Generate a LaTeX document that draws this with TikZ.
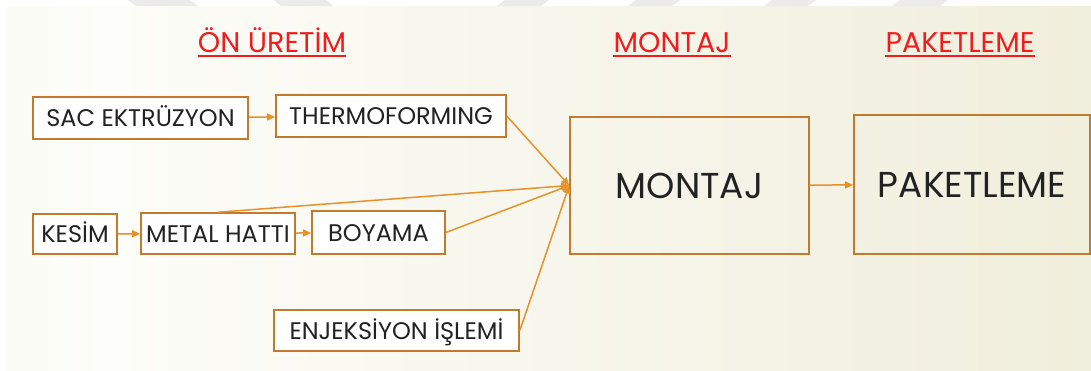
\documentclass[tikz,border=0pt]{standalone}
\usepackage{fontspec}
\setmainfont{Poppins}
\usetikzlibrary{arrows.meta}

\definecolor{boxline}{HTML}{C27A2E}
\definecolor{flow}{HTML}{E8912B}
\definecolor{titlered}{HTML}{F21C1C}
\definecolor{ink}{HTML}{222222}
\definecolor{bgl}{HTML}{F5F4EA}
\definecolor{bgm}{HTML}{FDFDF9}
\definecolor{bgr}{HTML}{E9E5CB}
\definecolor{stripe}{HTML}{EBEBEB}

\pgfdeclarehorizontalshading{bgshade}{100bp}{color(0bp)=(bgl); color(30bp)=(bgm); color(62bp)=(bgm!55!bgr); color(100bp)=(bgr)}

\tikzset{
  stepbox/.style={draw=boxline, line width=1.6pt, fill=white, inner sep=0pt,
    text=ink, text height=17pt, text depth=0pt,
    font=\fontsize{24}{24}\selectfont},
  bigbox/.style={draw=boxline, line width=1.6pt, inner sep=0pt,
    text=ink, text height=25pt, text depth=0pt,
    font=\fontsize{36}{36}\selectfont},
  heading/.style={text=titlered, inner sep=0pt, anchor=base,
    font=\fontsize{28.5}{28.5}\selectfont},
  underl/.style={draw=titlered, line width=2.4pt},
  flowline/.style={draw=flow, line width=1.5pt, -{Triangle[length=8pt,width=7pt]}},
}

\begin{document}
\begin{tikzpicture}[x=1pt, y=-1pt]
  \useasboundingbox (0,0) rectangle (1091,370);
  % page and slide background
  \fill[white] (0,0) rectangle (1091,370);
  \shade[shading=bgshade] (7,6) rectangle (1091,370);
  % light stripes along the top edge
  \foreach \a/\b/\c/\d in {128/190/198/136, 274/326/333/281, 505/549/541/497,
                           636/680/672/628, 772/816/808/764, 900/948/940/892}
    \fill[stripe] (\a,0) -- (\b,0) -- (\c,6) -- (\d,6) -- cycle;

  % headings
  \node[heading] (h1) at (272,52) {ÖN ÜRETİM};
  \node[heading] (h2) at (672,52) {MONTAJ};
  \node[heading] (h3) at (960,52) {PAKETLEME};
  \foreach \h in {h1,h2,h3}
    \draw[underl] ([yshift=-4pt]\h.base west) -- ([yshift=-4pt]\h.base east);

  % pre-production steps
  \node[stepbox, minimum width=215pt, minimum height=42pt] (sac)    at (140.5,118) {SAC EKTRÜZYON};
  \node[stepbox, minimum width=230pt, minimum height=42pt] (thermo) at (391,116)   {THERMOFORMING};
  \node[stepbox, minimum width=84pt,  minimum height=40pt] (kesim)  at (75,234)    {KESİM};
  \node[stepbox, minimum width=154pt, minimum height=41pt] (metal)  at (218,233.5) {METAL HATTI};
  \node[stepbox, minimum width=133pt, minimum height=43pt] (boya)   at (378.5,232.5) {BOYAMA};
  \node[stepbox, minimum width=245pt, minimum height=41pt] (enj)    at (396.5,330.5) {ENJEKSİYON İŞLEMİ};

  % assembly and packaging
  \node[bigbox, minimum width=239pt, minimum height=137pt] (montaj) at (689.5,185.5) {MONTAJ};
  \node[bigbox, minimum width=236pt, minimum height=139pt] (paket)  at (972,184.5)   {PAKETLEME};

  % flow
  \draw[flowline] (sac) -- (thermo);
  \draw[flowline] (kesim) -- (metal);
  \draw[flowline] (metal) -- (boya);
  \draw[flowline] (thermo.east) -- (montaj.west);
  \draw[flowline] (metal.north) -- (montaj.west);
  \draw[flowline] (boya.east) -- (montaj.west);
  \draw[flowline] (enj.east) -- (montaj.west);
  \draw[flowline] (montaj) -- (paket);
\end{tikzpicture}
\end{document}
